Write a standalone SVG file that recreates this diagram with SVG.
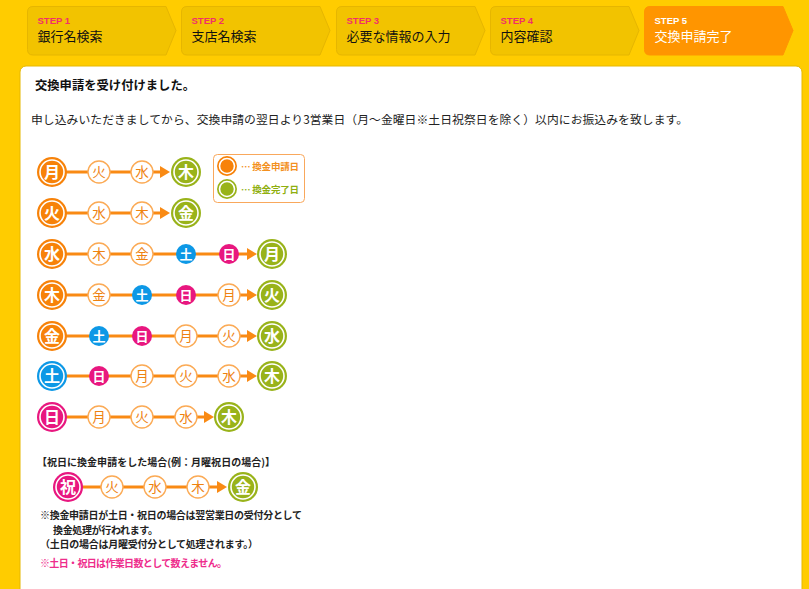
<svg xmlns="http://www.w3.org/2000/svg" width="809" height="589" viewBox="0 0 809 589">
<defs>
<style>
.jp{font-family:"Noto Sans CJK JP","Noto Sans",sans-serif}
.step{fill:#F2C300;stroke:#E6B600;stroke-width:1}
.step.cur{fill:#FF9500;stroke:#FF9500}
.stepno{font-family:"Liberation Sans",sans-serif;font-size:9.5px;font-weight:bold;fill:#F0306A}
.steplbl{font-family:"Noto Sans CJK JP",sans-serif;font-size:13px;fill:#111}
.cur-t{fill:#fff}
.ring{fill:none;stroke:#fff;stroke-width:1.6}
.o{fill:#F78209}
.g{fill:#99B31A}
.b{fill:#0D98E6}
.p{fill:#E8177F}
.sm{fill:#fff;stroke:#FBAA55;stroke-width:1.4}
.bt{font-family:"Noto Sans CJK JP",sans-serif;font-size:16px;font-weight:bold;fill:#fff;text-anchor:middle}
.st{font-family:"Noto Sans CJK JP",sans-serif;font-size:13.5px;fill:#EE8210;text-anchor:middle}
.stw{font-family:"Noto Sans CJK JP",sans-serif;font-size:13px;font-weight:bold;fill:#fff;text-anchor:middle}
.ln{stroke:#F98A14;stroke-width:3;fill:none}
.ah{fill:#F98A14}
.note{font-family:"Noto Sans CJK JP",sans-serif;font-size:10px;font-weight:bold;fill:#222}
</style>
</defs>
<rect x="0" y="0" width="809" height="589" fill="#FFCC00"/>

<g id="steps">
<g id="step1"><path class="step" d="M33 6.5 H166 L176 30.5 L166 55 H33 Q27.5 55 27.5 49.5 V12 Q27.5 6.5 33 6.5 Z"/><text class="stepno" x="37.5" y="24">STEP 1</text><text class="steplbl" x="37.5" y="40.5">銀行名検索</text></g>
<g id="step2"><path class="step" d="M187 6.5 H320 L330 30.5 L320 55 H187 Q181.5 55 181.5 49.5 V12 Q181.5 6.5 187 6.5 Z"/><text class="stepno" x="191.5" y="24">STEP 2</text><text class="steplbl" x="191.5" y="40.5">支店名検索</text></g>
<g id="step3"><path class="step" d="M342 6.5 H475 L485 30.5 L475 55 H342 Q336.5 55 336.5 49.5 V12 Q336.5 6.5 342 6.5 Z"/><text class="stepno" x="346.5" y="24">STEP 3</text><text class="steplbl" x="346.5" y="40.5">必要な情報の入力</text></g>
<g id="step4"><path class="step" d="M496 6.5 H629 L639 30.5 L629 55 H496 Q490.5 55 490.5 49.5 V12 Q490.5 6.5 496 6.5 Z"/><text class="stepno" x="500.5" y="24">STEP 4</text><text class="steplbl" x="500.5" y="40.5">内容確認</text></g>
<g id="step5"><path class="step cur" d="M650 6.5 H783 L793 30.5 L783 55 H650 Q644.5 55 644.5 49.5 V12 Q644.5 6.5 650 6.5 Z"/><text class="stepno cur-t" x="654.5" y="24">STEP 5</text><text class="steplbl cur-t" x="654.5" y="40.5">交換申請完了</text></g>
</g>

<g id="panel">
<rect x="20" y="66" width="782" height="540" rx="6" fill="#fff" stroke="#E6B800" stroke-width="1"/>
<text class="jp" x="35" y="90" font-size="12.3" font-weight="bold" fill="#111" textLength="160">交換申請を受け付けました。</text>
<text class="jp" x="31" y="124" font-size="11.8" fill="#222" textLength="657">申し込みいただきましてから、交換申請の翌日より3営業日（月～金曜日※土日祝祭日を除く）以内にお振込みを致します。</text>
</g>

<g id="connectors">
<line class="ln" x1="52" y1="172" x2="162" y2="172"/><polygon class="ah" points="160,166 170,172 160,178"/>
<line class="ln" x1="52" y1="213" x2="162" y2="213"/><polygon class="ah" points="160,207 170,213 160,219"/>
<line class="ln" x1="52" y1="254" x2="249" y2="254"/><polygon class="ah" points="247,248 257,254 247,260"/>
<line class="ln" x1="52" y1="295" x2="249" y2="295"/><polygon class="ah" points="247,289 257,295 247,301"/>
<line class="ln" x1="52" y1="336" x2="249" y2="336"/><polygon class="ah" points="247,330 257,336 247,342"/>
<line class="ln" x1="52" y1="376" x2="249" y2="376"/><polygon class="ah" points="247,370 257,376 247,382"/>
<line class="ln" x1="52" y1="417" x2="206" y2="417"/><polygon class="ah" points="204,411 214,417 204,423"/>
<line class="ln" x1="68" y1="487" x2="219" y2="487"/><polygon class="ah" points="217,481 227,487 217,493"/>
</g>

<g id="legend">
<rect x="213.5" y="154.5" width="91" height="48" rx="4" fill="#fff" stroke="#F9A85C" stroke-width="1"/>
<circle class="o" cx="227" cy="166" r="10"/><circle class="ring" cx="227" cy="166" r="7.5"/>
<circle class="g" cx="227" cy="189" r="10"/><circle class="ring" cx="227" cy="189" r="7.5"/>
<text class="jp" x="241" y="169.5" font-size="9.5" font-weight="bold" fill="#F39020" textLength="58">… 換金申請日</text>
<text class="jp" x="241" y="192.5" font-size="9.5" font-weight="bold" fill="#8FAF10" textLength="58">… 換金完了日</text>
</g>

<g id="row1">
<g id="r1-mon"><circle class="o" cx="52" cy="172" r="15"/><circle class="ring" cx="52" cy="172" r="12"/><text class="bt" x="52" y="177.5">月</text></g>
<g id="r1-tue"><circle class="sm" cx="99" cy="172" r="11"/><text class="st" x="99" y="177">火</text></g>
<g id="r1-wed"><circle class="sm" cx="142" cy="172" r="11"/><text class="st" x="142" y="177">水</text></g>
<g id="r1-thu"><circle class="g" cx="186" cy="172" r="15"/><circle class="ring" cx="186" cy="172" r="12"/><text class="bt" x="186" y="177.5">木</text></g>
</g>

<g id="row2">
<g id="r2-tue"><circle class="o" cx="52" cy="213" r="15"/><circle class="ring" cx="52" cy="213" r="12"/><text class="bt" x="52" y="218.5">火</text></g>
<g id="r2-wed"><circle class="sm" cx="99" cy="213" r="11"/><text class="st" x="99" y="218">水</text></g>
<g id="r2-thu"><circle class="sm" cx="142" cy="213" r="11"/><text class="st" x="142" y="218">木</text></g>
<g id="r2-fri"><circle class="g" cx="186" cy="213" r="15"/><circle class="ring" cx="186" cy="213" r="12"/><text class="bt" x="186" y="218.5">金</text></g>
</g>

<g id="row3">
<g id="r3-wed"><circle class="o" cx="52" cy="254" r="15"/><circle class="ring" cx="52" cy="254" r="12"/><text class="bt" x="52" y="259.5">水</text></g>
<g id="r3-thu"><circle class="sm" cx="99" cy="254" r="11"/><text class="st" x="99" y="259">木</text></g>
<g id="r3-fri"><circle class="sm" cx="142" cy="254" r="11"/><text class="st" x="142" y="259">金</text></g>
<g id="r3-sat"><circle class="b" cx="186" cy="254" r="10"/><text class="stw" x="186" y="258.5">土</text></g>
<g id="r3-sun"><circle class="p" cx="229" cy="254" r="10"/><text class="stw" x="229" y="258.5">日</text></g>
<g id="r3-mon"><circle class="g" cx="272" cy="254" r="15"/><circle class="ring" cx="272" cy="254" r="12"/><text class="bt" x="272" y="259.5">月</text></g>
</g>

<g id="row4">
<g id="r4-thu"><circle class="o" cx="52" cy="295" r="15"/><circle class="ring" cx="52" cy="295" r="12"/><text class="bt" x="52" y="300.5">木</text></g>
<g id="r4-fri"><circle class="sm" cx="99" cy="295" r="11"/><text class="st" x="99" y="300">金</text></g>
<g id="r4-sat"><circle class="b" cx="142" cy="295" r="10"/><text class="stw" x="142" y="299.5">土</text></g>
<g id="r4-sun"><circle class="p" cx="186" cy="295" r="10"/><text class="stw" x="186" y="299.5">日</text></g>
<g id="r4-mon"><circle class="sm" cx="229" cy="295" r="11"/><text class="st" x="229" y="300">月</text></g>
<g id="r4-tue"><circle class="g" cx="272" cy="295" r="15"/><circle class="ring" cx="272" cy="295" r="12"/><text class="bt" x="272" y="300.5">火</text></g>
</g>

<g id="row5">
<g id="r5-fri"><circle class="o" cx="52" cy="336" r="15"/><circle class="ring" cx="52" cy="336" r="12"/><text class="bt" x="52" y="341.5">金</text></g>
<g id="r5-sat"><circle class="b" cx="99" cy="336" r="10"/><text class="stw" x="99" y="340.5">土</text></g>
<g id="r5-sun"><circle class="p" cx="142" cy="336" r="10"/><text class="stw" x="142" y="340.5">日</text></g>
<g id="r5-mon"><circle class="sm" cx="186" cy="336" r="11"/><text class="st" x="186" y="341">月</text></g>
<g id="r5-tue"><circle class="sm" cx="229" cy="336" r="11"/><text class="st" x="229" y="341">火</text></g>
<g id="r5-wed"><circle class="g" cx="272" cy="336" r="15"/><circle class="ring" cx="272" cy="336" r="12"/><text class="bt" x="272" y="341.5">水</text></g>
</g>

<g id="row6">
<g id="r6-sat"><circle class="b" cx="52" cy="376" r="15"/><circle class="ring" cx="52" cy="376" r="12"/><text class="bt" x="52" y="381.5">土</text></g>
<g id="r6-sun"><circle class="p" cx="99" cy="376" r="10"/><text class="stw" x="99" y="380.5">日</text></g>
<g id="r6-mon"><circle class="sm" cx="142" cy="376" r="11"/><text class="st" x="142" y="381">月</text></g>
<g id="r6-tue"><circle class="sm" cx="186" cy="376" r="11"/><text class="st" x="186" y="381">火</text></g>
<g id="r6-wed"><circle class="sm" cx="229" cy="376" r="11"/><text class="st" x="229" y="381">水</text></g>
<g id="r6-thu"><circle class="g" cx="272" cy="376" r="15"/><circle class="ring" cx="272" cy="376" r="12"/><text class="bt" x="272" y="381.5">木</text></g>
</g>

<g id="row7">
<g id="r7-sun"><circle class="p" cx="52" cy="417" r="15"/><circle class="ring" cx="52" cy="417" r="12"/><text class="bt" x="52" y="422.5">日</text></g>
<g id="r7-mon"><circle class="sm" cx="99" cy="417" r="11"/><text class="st" x="99" y="422">月</text></g>
<g id="r7-tue"><circle class="sm" cx="142" cy="417" r="11"/><text class="st" x="142" y="422">火</text></g>
<g id="r7-wed"><circle class="sm" cx="186" cy="417" r="11"/><text class="st" x="186" y="422">水</text></g>
<g id="r7-thu"><circle class="g" cx="229" cy="417" r="15"/><circle class="ring" cx="229" cy="417" r="12"/><text class="bt" x="229" y="422.5">木</text></g>
</g>

<g id="holiday">
<text class="note" x="37" y="466" textLength="238">【祝日に換金申請をした場合(例：月曜祝日の場合)】</text>
<g id="h-hol"><circle class="p" cx="68" cy="487" r="15"/><circle class="ring" cx="68" cy="487" r="12"/><text class="bt" x="68" y="492.5">祝</text></g>
<g id="h-tue"><circle class="sm" cx="112" cy="487" r="11"/><text class="st" x="112" y="492">火</text></g>
<g id="h-wed"><circle class="sm" cx="155" cy="487" r="11"/><text class="st" x="155" y="492">水</text></g>
<g id="h-thu"><circle class="sm" cx="198" cy="487" r="11"/><text class="st" x="198" y="492">木</text></g>
<g id="h-fri"><circle class="g" cx="243" cy="487" r="15"/><circle class="ring" cx="243" cy="487" r="12"/><text class="bt" x="243" y="492.5">金</text></g>
</g>

<g id="notes">
<text class="note" x="40" y="519" textLength="262">※換金申請日が土日・祝日の場合は翌営業日の受付分として</text>
<text class="note" x="53" y="533.5" textLength="105">換金処理が行われます。</text>
<text class="note" x="40" y="548" textLength="218">（土日の場合は月曜受付分として処理されます。）</text>
<text class="note" x="40" y="567" textLength="187" style="fill:#EE2C8C">※土日・祝日は作業日数として数えません。</text>
</g>
</svg>
